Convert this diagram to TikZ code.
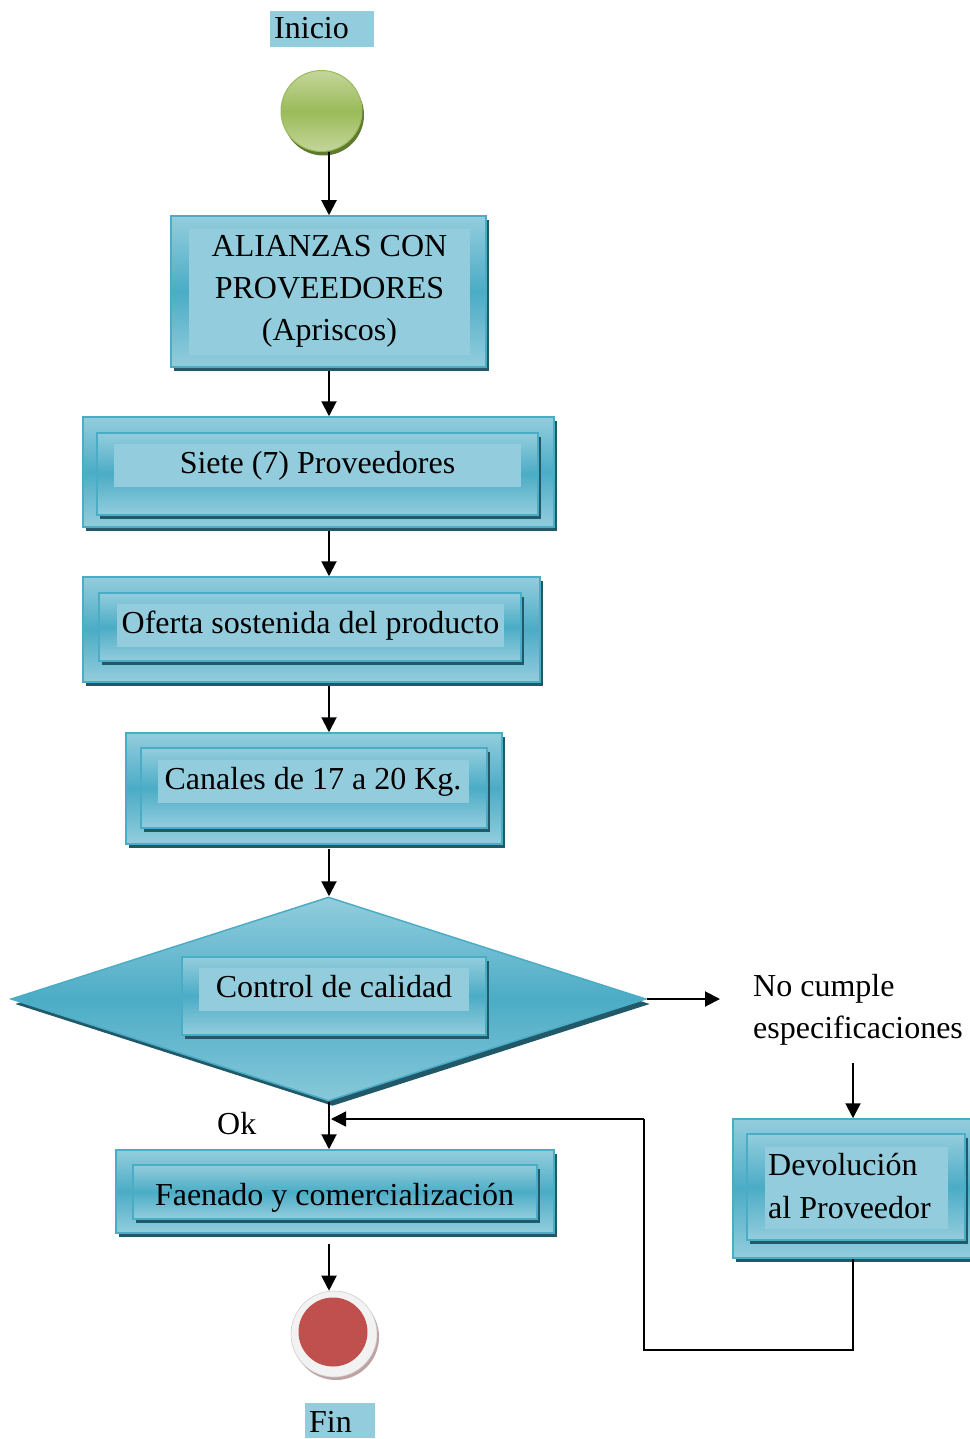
\documentclass[tikz,border=0pt]{standalone}
\usepackage{fontspec}
\setmainfont{Liberation Serif}
\usetikzlibrary{shapes.geometric,shadows,arrows.meta}
\definecolor{lightc}{HTML}{93CDDD}
\definecolor{darkc}{HTML}{4BACC6}
\definecolor{bordc}{HTML}{4BACC6}
\definecolor{shadc}{HTML}{215968}
\definecolor{glight}{HTML}{C3D69B}
\definecolor{gmid}{HTML}{9BBB59}
\definecolor{gshad}{HTML}{5F7A2E}
\definecolor{redc}{HTML}{C0504D}
\definecolor{ringc}{HTML}{F2F2F2}
\definecolor{rshad}{HTML}{BFA3A3}
\tikzset{
  bigfont/.style={font=\fontsize{32}{42}\selectfont},
  frame/.style={draw=bordc, line width=1.5pt, top color=lightc, bottom color=lightc, middle color=darkc,
    drop shadow={shadow xshift=3pt, shadow yshift=-4pt, fill=shadc, opacity=1}, inner sep=0pt},
  area/.style={fill=lightc, inner sep=0pt, bigfont, text height=22pt, text depth=7pt},
  txt/.style={inner sep=0pt, bigfont},
  lbl/.style={fill=lightc, inner sep=0pt},
  tipc/.style={-{Triangle[length=15pt,width=15pt]}},
  arr/.style={line width=2pt, tipc},
  loopline/.style={line width=1.5pt},
}
\begin{document}
\begin{tikzpicture}[x=1pt,y=-1pt]
\useasboundingbox (0,0) rectangle (969,1439);
\coordinate (axis) at (329,0);
% Inicio
\node[lbl, minimum width=104pt, minimum height=36pt] (inicio) at (322,29) {};
\node[txt, anchor=base west] (iniciot) at (274,39) {Inicio};
% green start circle
\node[circle, minimum size=81pt, inner sep=0pt, draw=gmid, line width=1pt,
  top color=glight, bottom color=glight, middle color=gmid,
  drop shadow={shadow xshift=2pt, shadow yshift=-4pt, fill=gshad, opacity=1}] (start) at (321.5,111) {};
% Box 1
\node[frame, minimum width=315pt, minimum height=151pt] (b1) at (328.5,291.5) {};
\node[fill=lightc, inner sep=0pt, minimum width=281pt, minimum height=126pt, bigfont, align=center] (b1t) at (329.5,291.6)
  {ALIANZAS CON\\PROVEEDORES\\(Apriscos)};
% Box 2
\node[frame, minimum width=471pt, minimum height=110pt] (b2) at (318.5,472) {};
\node[frame, minimum width=441pt, minimum height=82pt] (b2i) at (317.5,474) {};
\node[area, minimum width=407pt, minimum height=43pt] (b2t) at (317.5,465.5) {Siete (7) Proveedores};
% Box 3
\node[frame, minimum width=457pt, minimum height=105pt] (b3) at (311.5,629.5) {};
\node[frame, minimum width=422pt, minimum height=68pt] (b3i) at (310,627) {};
\node[area, minimum width=387pt, minimum height=43pt] (b3t) at (310.5,625.5) {Oferta sostenida del producto};
% Box 4
\node[frame, minimum width=376pt, minimum height=111pt] (b4) at (314,788.5) {};
\node[frame, minimum width=346pt, minimum height=80pt] (b4i) at (314,788) {};
\node[area, minimum width=311pt, minimum height=43pt] (b4t) at (313,781.5) {Canales de 17 a 20 Kg.};
% Diamond
\node[diamond, draw=bordc, line width=1.5pt, inner sep=0pt, minimum width=635pt, minimum height=204pt,
  top color=lightc, bottom color=lightc!85!darkc, middle color=darkc,
  drop shadow={shadow xshift=4pt, shadow yshift=-5pt, fill=shadc, opacity=1}] (dia) at (328.5,999) {};
\node[frame, minimum width=304pt, minimum height=78pt] (diai) at (334,996) {};
\node[area, minimum width=270pt, minimum height=43pt] (diat) at (334,989.5) {Control de calidad};
% No cumple
\node[txt, anchor=base west] (nc1) at (753,996) {No cumple};
\node[txt, anchor=base west] (nc2) at (753,1038) {especificaciones};
\coordinate (ncend) at (720,999);
\coordinate (ncb) at (853,1063);
% Devolucion
\node[frame, minimum width=240pt, minimum height=139pt] (dev) at (853,1188.5) {};
\node[frame, minimum width=218pt, minimum height=106pt] (devi) at (856,1187) {};
\node[fill=lightc, inner sep=0pt, minimum width=183pt, minimum height=82pt] (devt) at (856.5,1188) {};
\node[txt, anchor=base west] (dev1) at (768,1175) {Devolución};
\node[txt, anchor=base west] (dev2) at (768,1218) {al Proveedor};
% Ok
\node[txt, anchor=base west] (ok) at (217,1134) {Ok};
% Faenado
\node[frame, minimum width=438pt, minimum height=83pt] (fae) at (335,1191.5) {};
\node[frame, minimum width=404pt, minimum height=54pt] (faei) at (335,1192) {};
\node[txt, anchor=base] (faet) at (334.5,1205) {Faenado y comercialización};
% End circle
\node[circle, minimum size=86pt, inner sep=0pt, fill=ringc, draw=ringc!85!black, line width=0.6pt,
  drop shadow={shadow xshift=2pt, shadow yshift=-3pt, fill=rshad, opacity=1}] (fin) at (334,1334) {};
\node[circle, minimum size=69pt, inner sep=0pt, fill=redc] (finr) at (333,1332) {};
% Fin label
\node[lbl, minimum width=70pt, minimum height=35pt] (finl) at (340,1420.5) {};
\node[txt, anchor=base west] (fint) at (309,1432) {Fin};
% loop coordinates
\coordinate (lp1) at (644,1350);
\coordinate (lp2) at (644,1119);
\coordinate (lp3) at (331,1119);
% connectors
\draw[arr] (start.south -| axis) -- (b1.north -| axis);
\draw[arr, shorten <=3pt] (b1.south -| axis) -- (b2.north -| axis);
\draw[arr, shorten <=3pt] (b2.south -| axis) -- (b3.north -| axis);
\draw[arr, shorten <=3pt] (b3.south -| axis) -- (b4.north -| axis);
\draw[arr, shorten <=4pt] (b4.south -| axis) -- (dia.north -| axis);
\draw[arr] (dia.east) -- (ncend);
\draw[arr] (ncb) -- (dev.north);
\draw[arr] (dia.south -| axis) -- (fae.north -| axis);
\draw[arr, shorten <=10pt] (fae.south -| axis) -- (fin.north -| axis);
\draw[loopline] (dev.south) |- (lp1) -- (lp2);
\draw[loopline, tipc] (lp2) -- (lp3);
\end{tikzpicture}
\end{document}
